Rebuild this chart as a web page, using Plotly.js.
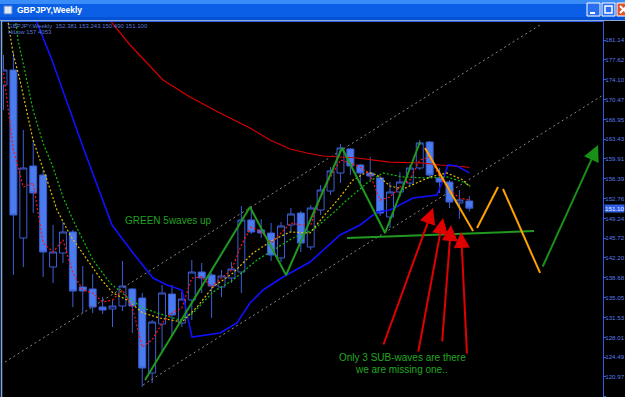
<!DOCTYPE html>
<html><head><meta charset="utf-8">
<script src="https://cdn.plot.ly/plotly-3.0.1.min.js"></script>
<style>html,body{margin:0;padding:0;background:#000;overflow:hidden}#chart{width:625px;height:397px}</style>
</head><body><div id="chart"></div>
<script>
// ---- candles (weekly GBPJPY) ----
const barIndex = [0,1,2,3,4,5,6,7,8,9,10,11,12,13,14,15,16,17,18,19,20,21,22,23,24,25,26,27,28,29,30,31,32,33,34,35,36,37,38,39,40,41,42,43,44,45,46,47];
const opens  = [173.10,175.78,145.77,158.63,157.02,140.59,143.09,146.84,137.01,136.66,133.44,133.08,133.62,136.66,135.05,121.65,130.40,135.76,130.58,134.69,139.69,139.16,137.01,138.62,139.69,148.99,147.20,146.66,142.20,148.09,150.23,144.16,150.77,154.16,157.38,161.67,158.81,157.38,156.49,149.52,153.99,155.59,158.27,162.92,156.49,155.77,152.02,152.38];
const highs  = [178.46,178.99,165.06,163.27,157.92,148.09,148.63,147.20,140.77,139.34,135.23,134.69,141.66,136.83,135.94,131.12,137.37,137.37,136.12,141.84,141.30,139.52,140.05,141.48,151.48,151.48,149.16,148.45,148.63,151.13,150.59,151.66,155.24,158.45,162.56,161.85,158.99,160.24,156.84,155.77,157.56,158.81,163.27,163.10,158.27,156.13,154.34,153.24];
const lows   = [168.64,139.16,140.59,150.23,138.80,137.73,141.30,133.44,132.37,132.37,132.19,129.87,132.72,128.80,119.15,119.86,125.58,128.44,129.87,131.12,135.94,131.48,135.23,137.73,135.94,146.48,145.77,141.66,141.48,146.84,143.27,143.62,149.87,153.45,155.59,157.02,155.59,156.13,149.70,147.56,153.09,155.06,157.92,156.49,153.81,151.12,149.16,150.49];
const closes = [175.78,149.88,158.27,153.81,143.27,143.27,146.84,136.30,136.30,133.44,132.90,133.62,137.19,133.62,122.54,130.76,135.94,132.01,134.87,139.69,138.62,137.19,138.98,140.23,148.99,146.84,146.66,142.73,147.91,150.06,144.87,151.13,154.34,157.74,161.85,158.63,157.38,156.84,150.23,153.99,155.77,158.27,162.74,157.02,155.77,152.20,152.56,151.10];

// ---- indicators ----
const fastMa = [175.25,161.49,154.88,155.59,144.87,143.27,145.41,139.51,136.48,135.94,134.33,134.69,136.48,133.44,126.29,127.55,130.58,132.37,133.26,138.62,138.80,137.01,138.62,140.05,144.52,147.73,146.84,144.87,146.66,148.45,148.09,148.09,153.09,156.67,159.70,159.17,158.45,157.02,152.56,153.09,154.88,156.13,159.70,160.24,156.67,154.34,152.91,152.56];
const yellowIdx = [0.35,0.56,0.96,1.66,2.98,4.39,5.40,6.71,8.43,9.74,11.05,12.46,14.08,15.79,18.01,19.53,21.14,23.16,25.18,27.19,28.91,30.93,32.24,33.96,35.27,36.68,37.69,39.0,40.31,41.73,43.04,44.76,46.37,47.07];
const yellowVal = [185.60,182.93,178.82,173.99,163.28,156.13,150.77,146.30,141.84,138.62,135.94,134.69,132.37,131.48,130.76,133.44,137.01,139.51,143.09,145.41,146.84,146.66,149.52,153.09,156.13,157.56,157.02,155.06,154.52,155.59,156.67,157.38,156.13,154.88];
const greenIdx = [1.16,1.46,2.07,2.98,3.99,4.99,6.0,7.01,8.02,9.03,10.75,12.46,14.08,15.79,17.81,19.12,21.14,23.16,25.58,27.19,29.21,31.23,33.25,34.66,36.68,38.29,40.31,42.74,44.76,46.37,47.07];
const greenVal = [185.60,181.14,176.32,168.63,162.74,158.45,153.09,148.98,145.41,141.84,137.73,135.23,133.26,132.19,131.12,132.37,136.12,138.26,141.84,143.62,145.77,147.20,150.23,152.56,155.59,157.38,156.67,156.49,156.67,155.77,155.06];
const hiloIdx = [3.28,4.09,4.89,8.02,10.95,13.07,15.09,16.50,18.01,19.02,21.85,23.56,24.87,26.19,28.20,30.93,33.96,35.98,37.69,39.0,41.32,43.74,44.35,44.85,45.76,47.0];
const hiloVal = [184.71,181.14,177.57,162.02,148.09,143.09,138.62,137.37,136.48,128.08,128.79,130.58,134.15,136.48,138.80,141.48,146.30,148.09,150.41,150.77,152.91,153.45,156.13,158.81,158.63,157.41];
const slowIdx = [10.55,12.77,16.09,18.82,21.85,24.87,26.89,28.91,30.62,32.24,35.67,39.0,42.33,44.05,46.77,47.0];
const slowVal = [185.07,180.25,173.99,170.96,168.10,165.42,163.27,161.67,160.95,160.42,160.06,159.34,159.17,158.81,158.45,158.35];

// ---- trend channel ----
const chanUpIdx = [0.15,54.14];  const chanUpVal = [123.61,183.82];
const chanLowIdx = [14.08,60.5]; const chanLowVal = [119.51,171.31];

// ---- hand-drawn analysis ----
const waveIdx = [14.28,24.87,28.51,34.16,38.5,42.03];
const waveVal = [120.40,151.31,139.16,161.85,146.66,162.92];
const supportIdx = [34.66,53.53]; const supportVal = [145.77,147.02];
const orangeIdx = [42.53,47.38,null,47.78,49.9,null,50.4,54.14];
const orangeVal = [161.85,147.02,null,147.55,154.88,null,154.52,139.52];
const redTailIdx = [38.29,41.83,44.25,46.77]; const redTailVal = [126.47,125.22,127.01,124.87];
const redTipIdx  = [43.34,44.35,45.16,46.17]; const redTipVal  = [151.13,149.34,148.09,146.84];
const greenArrowTail = [54.34,140.41]; const greenArrowTip = [59.99,162.38];

// ---- price scale ----
const tickVals = [181.14,177.62,174.10,170.47,166.95,163.43,159.91,156.39,152.76,149.24,145.72,142.20,138.68,135.05,131.53,128.01,124.49,120.97,117.45];
const tickText = tickVals.map(v => v.toFixed(2));
const lastPrice = 151.10;

const W = 625, H = 397, L = 3, R = 22, T = 21, B = 0;
const pw = W - L - R, ph = H - T - B;
const px = x => (x - L) / pw;
const py = y => (H - B - y) / ph;

const traces = [
  {type:'candlestick', x: barIndex, open: opens, high: highs, low: lows, close: closes,
   increasing:{line:{color:'#3d5fd6', width:1}, fillcolor:'#000000'},
   decreasing:{line:{color:'#3d5fd6', width:1}, fillcolor:'#4a7cf0'},
   whiskerwidth:0, hoverinfo:'skip', showlegend:false},
  {type:'scatter', mode:'lines', x: chanUpIdx, y: chanUpVal, line:{color:'#8a8a8a', width:1, dash:'2px,3px'}, hoverinfo:'skip'},
  {type:'scatter', mode:'lines', x: chanLowIdx, y: chanLowVal, line:{color:'#8a8a8a', width:1, dash:'2px,3px'}, hoverinfo:'skip'},
  {type:'scatter', mode:'lines', x: slowIdx, y: slowVal, line:{color:'#d80000', width:1.2}, hoverinfo:'skip'},
  {type:'scatter', mode:'lines', x: hiloIdx, y: hiloVal, line:{color:'#1010ff', width:1.6}, hoverinfo:'skip'},
  {type:'scatter', mode:'lines', x: greenIdx, y: greenVal, line:{color:'#10c010', width:1.2, dash:'2px,2px'}, hoverinfo:'skip'},
  {type:'scatter', mode:'lines', x: yellowIdx, y: yellowVal, line:{color:'#e0c000', width:1.2, dash:'2px,2px'}, hoverinfo:'skip'},
  {type:'scatter', mode:'lines', x: barIndex, y: fastMa, line:{color:'#ff1010', width:1.2, dash:'2px,2px'}, hoverinfo:'skip'},
  {type:'scatter', mode:'lines', x: waveIdx, y: waveVal, line:{color:'#1f9a1f', width:2}, hoverinfo:'skip'},
  {type:'scatter', mode:'lines', x: supportIdx, y: supportVal, line:{color:'#1f9a1f', width:2}, hoverinfo:'skip'},
  {type:'scatter', mode:'lines', x: orangeIdx, y: orangeVal, connectgaps:false, line:{color:'#ffa200', width:2}, hoverinfo:'skip'}
];

const txt = (x, y, text, size, color, xanchor, extra) => Object.assign({
  xref:'paper', yref:'paper', x: px(x), y: py(y), text: text, showarrow:false,
  xanchor: xanchor || 'center', yanchor:'middle',
  font:{family:'Liberation Sans, Arial', size: size, color: color}}, extra || {});

const annotations = [];
for (let i = 0; i < redTipIdx.length; i++) {
  annotations.push({x: redTipIdx[i], y: redTipVal[i], ax: redTailIdx[i], ay: redTailVal[i],
    xref:'x', yref:'y', axref:'x', ayref:'y', text:'', showarrow:true,
    arrowhead:2, arrowsize:1.6, arrowwidth:2, arrowcolor:'#e00000'});
}
annotations.push({x: greenArrowTip[0], y: greenArrowTip[1], ax: greenArrowTail[0], ay: greenArrowTail[1],
  xref:'x', yref:'y', axref:'x', ayref:'y', text:'', showarrow:true,
  arrowhead:2, arrowsize:1.6, arrowwidth:2, arrowcolor:'#189018'});
annotations.push(txt(168, 220, 'GREEN 5waves up', 10, '#22a022'));
annotations.push(txt(402, 357.5, 'Only 3 SUB-waves are there', 10, '#22a822'));
annotations.push(txt(401, 369, 'we are missing one..', 10, '#22a822'));
annotations.push(txt(6, 25.5, 'GBPJPY,Weekly  152.381 153.243 150.490 151.100', 6, '#5a78d8', 'left'));
annotations.push(txt(6, 31.5, 'HiLow 157.4053', 6, '#5a78d8', 'left'));
annotations.push(txt(15, 10, '<b>GBPJPY,Weekly</b>', 8.5, '#ffffff', 'left'));
annotations.push({xref:'paper', yref:'y', x: px(604), y: lastPrice, xanchor:'left', yanchor:'middle', text: lastPrice.toFixed(2), showarrow:false,
  bgcolor:'#2f5fe8', borderpad:0, font:{family:'Liberation Sans, Arial', size:6.2, color:'#e8f0ff'}});

const shapes = [
  // title bar
  {type:'rect', xref:'paper', yref:'paper', x0:px(0), x1:px(625), y0:py(20), y1:py(0), fillcolor:'#0a5fe6', line:{width:0}, layer:'above'},
  {type:'rect', xref:'paper', yref:'paper', x0:px(0), x1:px(625), y0:py(4), y1:py(0), fillcolor:'#3a8cf8', line:{width:0}, layer:'above'},
  {type:'rect', xref:'paper', yref:'paper', x0:px(0), x1:px(625), y0:py(20), y1:py(17), fillcolor:'#0552d2', line:{width:0}, layer:'above'},
  {type:'rect', xref:'paper', yref:'paper', x0:px(0), x1:px(625), y0:py(21), y1:py(20), fillcolor:'#8fa8d8', line:{width:0}, layer:'above'},
  // icon
  {type:'rect', xref:'paper', yref:'paper', x0:px(4), x1:px(12), y0:py(14), y1:py(6), fillcolor:'#dfe8f8', line:{color:'#5a7fc0', width:1}, layer:'above'},
  // buttons
  {type:'rect', xref:'paper', yref:'paper', x0:px(587), x1:px(600), y0:py(16), y1:py(3), fillcolor:'#2a6ef2', line:{color:'#ffffff', width:1}, layer:'above'},
  {type:'line', xref:'paper', yref:'paper', x0:px(590), x1:px(595), y0:py(13), y1:py(13), line:{color:'#ffffff', width:2}, layer:'above'},
  {type:'rect', xref:'paper', yref:'paper', x0:px(602), x1:px(615), y0:py(16), y1:py(3), fillcolor:'#2a6ef2', line:{color:'#ffffff', width:1}, layer:'above'},
  {type:'rect', xref:'paper', yref:'paper', x0:px(605), x1:px(612), y0:py(13), y1:py(6), fillcolor:'rgba(0,0,0,0)', line:{color:'#ffffff', width:1.5}, layer:'above'},
  {type:'rect', xref:'paper', yref:'paper', x0:px(617), x1:px(630), y0:py(16), y1:py(3), fillcolor:'#e0542c', line:{color:'#ffffff', width:1}, layer:'above'},
  {type:'line', xref:'paper', yref:'paper', x0:px(620), x1:px(627), y0:py(13), y1:py(6), line:{color:'#ffffff', width:2}, layer:'above'},
  {type:'line', xref:'paper', yref:'paper', x0:px(620), x1:px(627), y0:py(6), y1:py(13), line:{color:'#ffffff', width:2}, layer:'above'},
  // chart frame
  {type:'line', xref:'paper', yref:'paper', x0:px(2), x1:px(604), y0:py(21.5), y1:py(21.5), line:{color:'#2f5fe0', width:1}, layer:'above'},
  {type:'line', xref:'paper', yref:'paper', x0:px(1.5), x1:px(1.5), y0:py(21), y1:py(397), line:{color:'#7fa8e8', width:1.5}, layer:'above'}
];

const layout = {
  width: W, height: H, margin:{l:L, r:R, t:T, b:B, pad:0},
  paper_bgcolor:'#000000', plot_bgcolor:'#000000', showlegend:false,
  boxgap:0.3, boxgroupgap:0,
  xaxis:{range:[-0.05,60.49], showgrid:false, zeroline:false, showticklabels:false, ticks:'', showline:false, rangeslider:{visible:false}, fixedrange:true},
  yaxis:{side:'right', range:[117.362,184.534], tickvals: tickVals, ticktext: tickText, ticks:'outside', ticklen:2, tickcolor:'#3a5ce0',
         ticklabelstandoff:-2,
         tickfont:{family:'Liberation Sans, Arial', size:6.2, color:'#5a7ae8'}, showgrid:false, zeroline:false,
         showline:true, linecolor:'#2f5fe0', linewidth:1, fixedrange:true},
  annotations: annotations, shapes: shapes
};

Plotly.newPlot('chart', traces, layout, {displayModeBar:false, staticPlot:true});
</script></body></html>
